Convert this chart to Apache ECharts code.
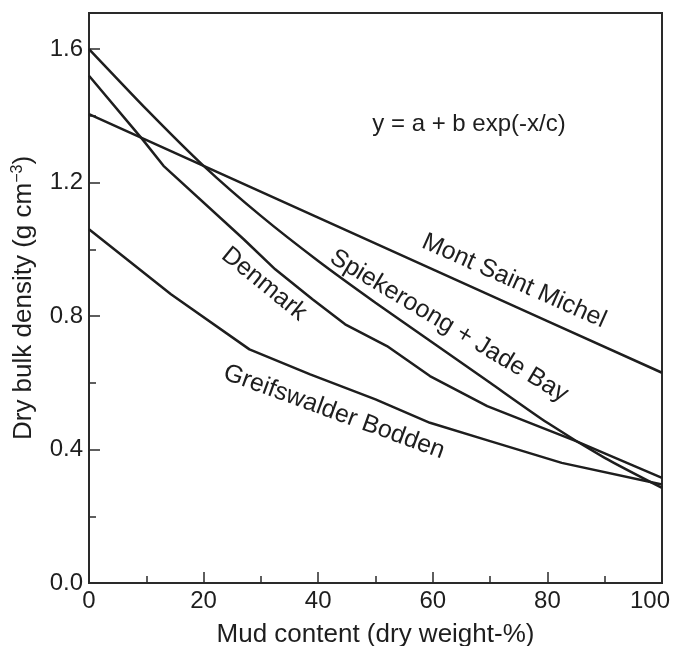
<!DOCTYPE html>
<html>
<head>
<meta charset="utf-8">
<script src="https://cdn.jsdelivr.net/npm/echarts@6/dist/echarts.min.js"></script>
<style>
  html, body { margin: 0; padding: 0; background: #fff; }
  #chart { width: 673px; height: 646px; }
</style>
</head>
<body>
<div id="chart"></div>
<script>
// values: mud content (%) vs dry bulk density (g cm-3)
const msmX = [0, 20, 40, 60, 80, 100];
const msmY = [1.405, 1.25, 1.095, 0.94, 0.785, 0.63];

const spiekX = [0, 10, 20, 30, 40, 50, 60, 70, 80, 90, 100];
const spiekY = [1.60, 1.42, 1.25, 1.10, 0.965, 0.84, 0.72, 0.60, 0.48, 0.375, 0.285];

const denmarkX = [0, 9.3, 13, 27, 32.5, 39, 44.7, 52, 59.5, 69.5, 85, 100];
const denmarkY = [1.52, 1.33, 1.25, 1.03, 0.94, 0.85, 0.775, 0.71, 0.62, 0.53, 0.425, 0.315];

const greifX = [0, 14.3, 28, 38.6, 50, 59.5, 70, 82.5, 100];
const greifY = [1.06, 0.865, 0.70, 0.625, 0.55, 0.48, 0.425, 0.36, 0.295];

const xTicks = [0, 20, 40, 60, 80, 100];
const yTicks = [0.0, 0.4, 0.8, 1.2, 1.6];

const FONT = 'Liberation Sans, Arial, sans-serif';
const INK = '#1e1e1e';

const pairs = (xs, ys) => xs.map((x, i) => [x, ys[i]]);

const chart = echarts.init(document.getElementById('chart'));

const lineSeries = (name, xs, ys, smooth) => ({
  name: name,
  type: 'line',
  data: pairs(xs, ys),
  xAxisIndex: 0,
  yAxisIndex: 0,
  symbol: 'none',
  silent: true,
  smooth: smooth || false,
  lineStyle: { color: INK, width: 2.5 },
});

const curveLabel = (text, x, y, deg) => ({
  type: 'text',
  x: x,
  y: y,
  rotation: -deg * Math.PI / 180,
  style: {
    text: text,
    fill: INK,
    font: '25px ' + FONT,
    align: 'center',
    verticalAlign: 'middle',
  },
});

const option = {
  animation: false,
  backgroundColor: '#fff',
  grid: {
    left: 89, right: 11, top: 13, bottom: 63,
    show: true, borderColor: '#2a2a2a', borderWidth: 2,
    containLabel: false,
    outerBoundsMode: 'none',
  },
  xAxis: {
    type: 'value',
    min: 0, max: 100, interval: 20,
    name: 'Mud content (dry weight-%)',
    nameLocation: 'middle',
    nameGap: 39,
    nameTextStyle: { fontFamily: FONT, fontSize: 26, color: INK },
    axisLine: { lineStyle: { color: '#2a2a2a', width: 2 } },
    axisTick: { inside: true, length: 11, lineStyle: { color: '#2a2a2a', width: 1.5 } },
    minorTick: { show: true, splitNumber: 2, length: 7, lineStyle: { color: '#2a2a2a', width: 1.5 } },
    splitLine: { show: false },
    axisLabel: {
      fontFamily: FONT, fontSize: 24, color: INK, margin: 6,
      formatter: v => {
        if (!xTicks.includes(v)) return '';
        return v === 100 ? '{r|100}' : String(v);
      },
      rich: {
        r: { fontFamily: FONT, fontSize: 24, color: INK, padding: [0, 24, 0, 0] },
      },
    },
  },
  yAxis: [
    {
      type: 'value',
      min: 0, max: 1.708, interval: 0.4,
      name: '{a|Dry bulk density (g cm}{s|−3}{a|)}',
      nameLocation: 'middle',
      nameGap: 50,
      nameTextStyle: {
        color: INK,
        rich: {
          a: { fontFamily: FONT, fontSize: 26, color: INK, lineHeight: 30 },
          s: { fontFamily: FONT, fontSize: 16, color: INK, lineHeight: 30, padding: [0, 0, 12, 0] },
        },
      },
      axisLine: { lineStyle: { color: '#2a2a2a', width: 2 } },
      axisTick: { inside: true, length: 11, lineStyle: { color: '#2a2a2a', width: 1.5 } },
      splitLine: { show: false },
      axisLabel: {
        fontFamily: FONT, fontSize: 24, color: INK, margin: 6,
        showMaxLabel: false,
        formatter: v => {
          const t = yTicks.find(k => Math.abs(k - v) < 1e-6);
          return t === undefined ? '' : t.toFixed(1);
        },
      },
    },
    {
      // minor ticks every 0.2
      type: 'value',
      min: 0, max: 1.708, interval: 0.2,
      position: 'left',
      axisLine: { show: false },
      axisTick: { inside: true, length: 7, lineStyle: { color: '#2a2a2a', width: 1.5 } },
      axisLabel: { show: false },
      splitLine: { show: false },
    },
  ],
  series: [
    lineSeries('Mont Saint Michel', msmX, msmY),
    lineSeries('Spiekeroong + Jade Bay', spiekX, spiekY, 0.2),
    lineSeries('Denmark', denmarkX, denmarkY),
    lineSeries('Greifswalder Bodden', greifX, greifY),
  ],
  graphic: [
    {
      type: 'text', x: 469, y: 124,
      style: { text: 'y = a + b exp(-x/c)', fill: INK, font: '24px ' + FONT, align: 'center', verticalAlign: 'middle' },
    },
    curveLabel('Mont Saint Michel', 514, 281, 24),
    curveLabel('Spiekeroong + Jade Bay', 449, 326, 31),
    curveLabel('Denmark', 264, 284, 39),
    curveLabel('Greifswalder Bodden', 334, 412, 20),
  ],
};

chart.setOption(option);
</script>
</body>
</html>
